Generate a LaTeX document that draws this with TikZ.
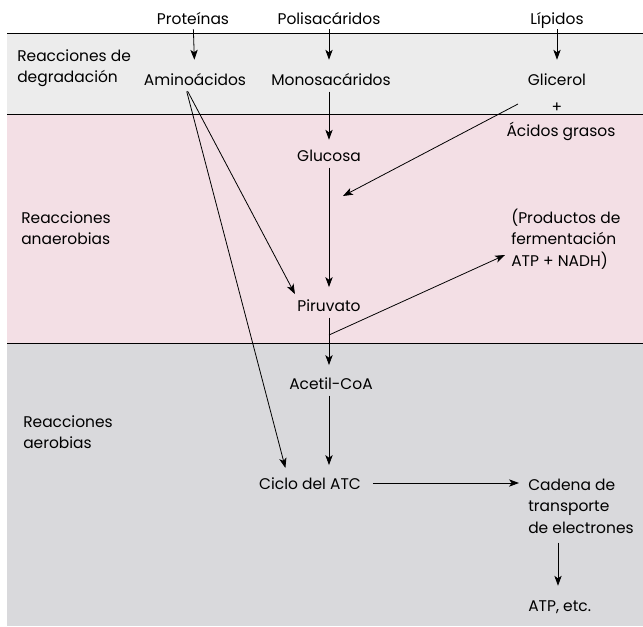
\documentclass[tikz,border=0pt]{standalone}
\usepackage{fontspec}
\setmainfont{Poppins}
\usetikzlibrary{arrows.meta,calc}
\definecolor{bandtop}{RGB}{236,236,236}
\definecolor{bandpink}{RGB}{243,223,229}
\definecolor{bandgray}{RGB}{217,217,220}
\tikzset{
  lbl/.style={inner sep=0.75pt, font=\fontsize{11.6}{16.2}\selectfont},
  word/.style={lbl, text height=10pt, text depth=1pt},
  flow/.style={-{Stealth[length=7.5pt,width=5.5pt,inset=2pt]}, line width=0.6pt},
}
\begin{document}
\begin{tikzpicture}[x=0.75pt,y=0.75pt,yscale=-1,xscale=1]
\useasboundingbox (0,0) rectangle (643,626);

%Shape: Rectangle
\fill[bandtop] (7,33) rectangle (643,114);
%Shape: Rectangle
\fill[bandpink] (7,114) rectangle (643,343);
%Shape: Rectangle
\fill[bandgray] (7,343) rectangle (643,626);
%Straight Lines
\draw[line width=0.6pt] (7,33) -- (643,33);
\draw[line width=0.6pt] (7,114) -- (643,114);
\draw[line width=0.6pt] (7,343) -- (643,343);

% Text Node
\node[word] (prot) at (193,18) {Proteínas};
\node[word] (poli) at (329,18) {Polisacáridos};
\node[word] (lip) at (557,18) {Lípidos};
\node[lbl, anchor=west, align=left] (degr) at (16,68) {Reacciones de\\degradación};
\node[word] (amino) at (195,79) {Aminoácidos};
\node[word] (mono) at (331,79) {Monosacáridos};
\node[word] (glic) at (557,79) {Glicerol};
\node[word] (plus) at (557,106) {+};
\node[word] (acid) at (561,130) {Ácidos grasos};
\node[word] (gluc) at (329,155) {Glucosa};
\node[lbl, anchor=west, align=left] (anaer) at (20,228) {Reacciones\\anaerobias};
\node[lbl, anchor=west, align=left] (prod) at (510,239) {(Productos de\\fermentación\\ATP + NADH)};
\node[word] (piru) at (329,305) {Piruvato};
\node[word] (acet) at (331,383) {Acetil-CoA};
\node[lbl, anchor=west, align=left] (aerob) at (22,432) {Reacciones\\aerobias};
\node[word] (ciclo) at (310,483) {Ciclo del ATC};
\node[lbl, anchor=west, align=left] (cadena) at (527,506) {Cadena de\\transporte\\de electrones};
\node[word, anchor=west] (atp) at (527,605) {ATP, etc.};

\coordinate (lipjoin) at (518,104);
\coordinate (glupath) at (343,196);
\coordinate (pirujoin) at (329,335);
\coordinate (fermend) at (505,255);

%Straight Lines
\draw[flow, shorten <=2pt, shorten >=8pt] (prot) -- (amino);
\draw[flow, shorten <=2pt, shorten >=8pt] (poli) -- (poli |- mono.north);
\draw[flow, shorten <=2pt, shorten >=8pt] (lip) -- (lip |- glic.north);
\draw[flow, shorten <=3pt, shorten >=5pt] (mono.south -| gluc) -- (gluc);
\draw[flow, shorten <=3pt, shorten >=7pt] (gluc) -- (piru);
\draw[flow, shorten <=3pt, shorten >=7pt] (piru) -- (piru |- acet.north);
\draw[flow, shorten <=3pt, shorten >=7pt] (acet.south -| piru) -- (piru |- ciclo.north);
\draw[flow, shorten <=3pt, shorten >=2pt] (amino.south west) ++(43,0) coordinate (aminofoot) -- (piru.north west);
\draw[flow, shorten <=3pt, shorten >=5pt] (aminofoot) -- ($(ciclo.north west)!0.28!(ciclo.north east)$);
\draw[flow] (lipjoin) -- (glupath);
\draw[flow] (pirujoin) -- (fermend);
\draw[flow, shorten <=8pt, shorten >=6pt] (ciclo.east) -- (ciclo.east -| cadena.west);
\draw[flow, shorten <=6pt, shorten >=8pt] (cadena.south -| 558,0) -- (atp.north -| 558,0);

\end{tikzpicture}
\end{document}
